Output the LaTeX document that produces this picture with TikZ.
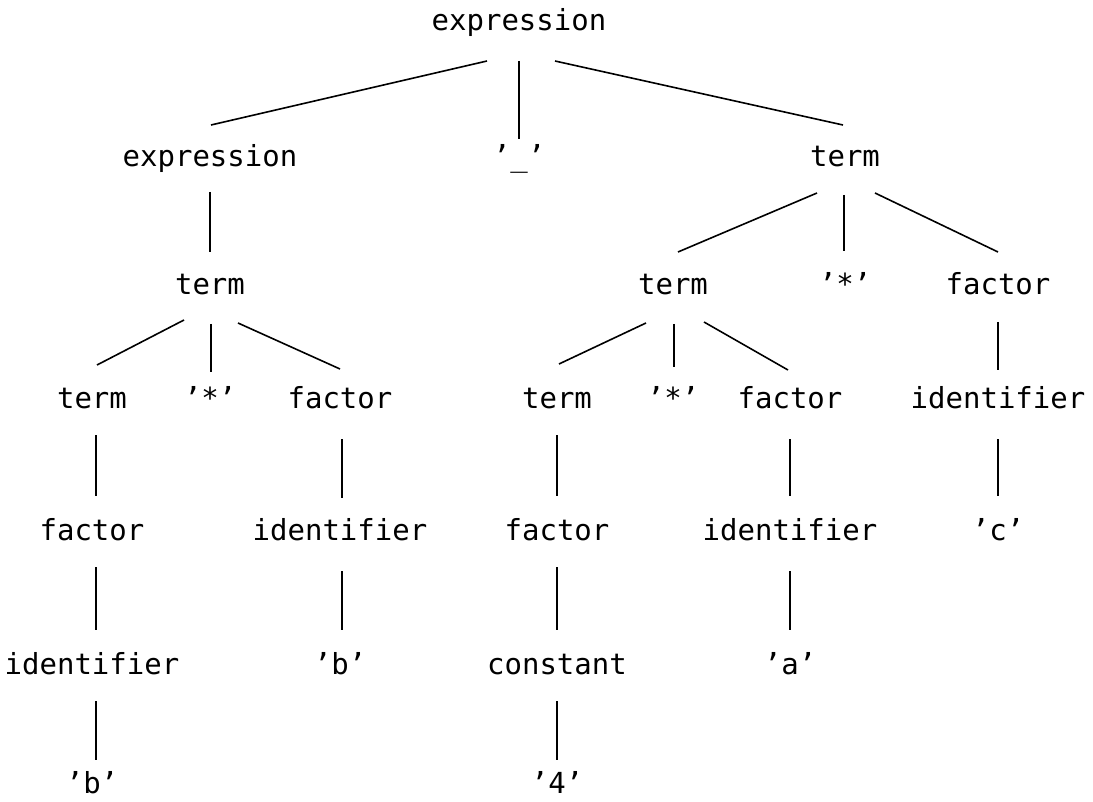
\documentclass[tikz,border=0pt]{standalone}
\usepackage{fontspec}
\setmonofont{DejaVu Sans Mono}
\begin{document}
\begin{tikzpicture}[x=1pt,y=-1pt,
  lbl/.style={anchor=base,inner sep=0pt,font=\ttfamily\fontsize{29}{30}\selectfont},
  edge/.style={line width=1.6pt,line cap=butt}]
\useasboundingbox (0,0) rectangle (1093,802);
% row 1
\node[lbl] (root) at (519,31) {expression};
% row 2
\node[lbl] (expL) at (210,167) {expression};
\node[lbl] (minus) at (519,167) {’\_’};
\node[lbl] (termR) at (845,167) {term};
% row 3
\node[lbl] (termL2) at (210,295) {term};
\node[lbl] (termR2) at (673,295) {term};
\node[lbl] (starR) at (845,295) {’*’};
\node[lbl] (factorR) at (998,295) {factor};
% row 4
\node[lbl] (termLL) at (92,408) {term};
\node[lbl] (starL) at (210,408) {’*’};
\node[lbl] (factorL) at (340,408) {factor};
\node[lbl] (termM) at (557,408) {term};
\node[lbl] (starM) at (673,408) {’*’};
\node[lbl] (factorM) at (790,408) {factor};
\node[lbl] (identR) at (998,408) {identifier};
% row 5
\node[lbl] (factorLL) at (92,540) {factor};
\node[lbl] (identL) at (340,540) {identifier};
\node[lbl] (factorM2) at (557,540) {factor};
\node[lbl] (identM) at (790,540) {identifier};
\node[lbl] (cR) at (998,540) {’c’};
% row 6
\node[lbl] (identLL) at (92,674) {identifier};
\node[lbl] (bL) at (340,674) {’b’};
\node[lbl] (const) at (557,674) {constant};
\node[lbl] (aM) at (790,674) {’a’};
% row 7
\node[lbl] (bLL) at (92,793) {’b’};
\node[lbl] (four) at (557,793) {’4’};
% edges
\draw[edge] ([shift={(-32,30)}]root.base) -- ([shift={(1,-42)}]expL.base);
\draw[edge] ([shift={(0,30)}]root.base) -- ([shift={(0,-28)}]minus.base);
\draw[edge] ([shift={(36,30)}]root.base) -- ([shift={(-2,-42)}]termR.base);
\draw[edge] ([shift={(0,25)}]expL.base) -- ([shift={(0,-43)}]termL2.base);
\draw[edge] ([shift={(-28,26)}]termR.base) -- ([shift={(5,-43)}]termR2.base);
\draw[edge] ([shift={(-1,28)}]termR.base) -- ([shift={(-1,-44)}]starR.base);
\draw[edge] ([shift={(30,26)}]termR.base) -- ([shift={(0,-43)}]factorR.base);
\draw[edge] ([shift={(-26,25)}]termL2.base) -- ([shift={(5,-43)}]termLL.base);
\draw[edge] ([shift={(1,29)}]termL2.base) -- ([shift={(1,-36)}]starL.base);
\draw[edge] ([shift={(28,28)}]termL2.base) -- ([shift={(0,-39)}]factorL.base);
\draw[edge] ([shift={(-27,28)}]termR2.base) -- ([shift={(2,-44)}]termM.base);
\draw[edge] ([shift={(1,29)}]termR2.base) -- ([shift={(1,-41)}]starM.base);
\draw[edge] ([shift={(31,27)}]termR2.base) -- ([shift={(-2,-38)}]factorM.base);
\draw[edge] ([shift={(0,27)}]factorR.base) -- ([shift={(0,-38)}]identR.base);
\draw[edge] ([shift={(4,27)}]termLL.base) -- ([shift={(4,-44)}]factorLL.base);
\draw[edge] ([shift={(2,31)}]factorL.base) -- ([shift={(2,-42)}]identL.base);
\draw[edge] ([shift={(0,27)}]termM.base) -- ([shift={(0,-44)}]factorM2.base);
\draw[edge] ([shift={(0,31)}]factorM.base) -- ([shift={(0,-44)}]identM.base);
\draw[edge] ([shift={(0,31)}]identR.base) -- ([shift={(0,-44)}]cR.base);
\draw[edge] ([shift={(4,27)}]factorLL.base) -- ([shift={(4,-44)}]identLL.base);
\draw[edge] ([shift={(2,31)}]identL.base) -- ([shift={(2,-44)}]bL.base);
\draw[edge] ([shift={(0,27)}]factorM2.base) -- ([shift={(0,-44)}]const.base);
\draw[edge] ([shift={(0,31)}]identM.base) -- ([shift={(0,-44)}]aM.base);
\draw[edge] ([shift={(4,27)}]identLL.base) -- ([shift={(4,-33)}]bLL.base);
\draw[edge] ([shift={(0,27)}]const.base) -- ([shift={(0,-33)}]four.base);
\end{tikzpicture}
\end{document}
